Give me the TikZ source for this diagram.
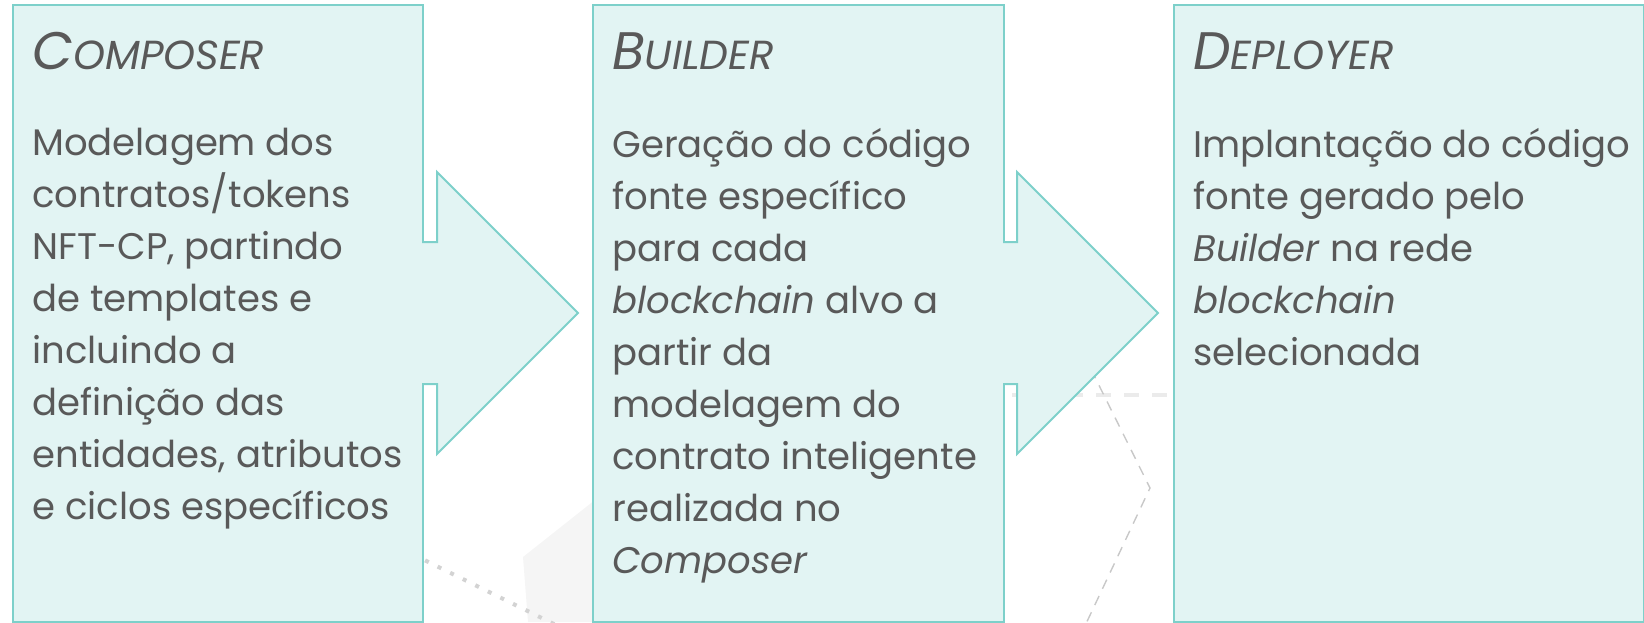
\documentclass[tikz,border=0pt]{standalone}
\usepackage{fontspec}
\setmainfont{Poppins}
\usepackage{tikz}

\definecolor{stagefill}{HTML}{E2F4F3}
\definecolor{stageline}{HTML}{7DD0CA}
\definecolor{stageink}{HTML}{595959}
\definecolor{decodash}{HTML}{C8C8C8}
\definecolor{decolight}{HTML}{EBEBEB}
\definecolor{decoshade}{HTML}{F5F5F5}

\newcommand{\stagecaps}[2]{{\fontsize{26.4}{26}\selectfont #1}{\fontsize{20.3}{20}\selectfont #2}}

\begin{document}
\begin{tikzpicture}[
		x=0.5pt, y=-0.5pt,
		stagebox/.style={rectangle, draw=stageline, fill=stagefill, line width=1pt, anchor=north west, inner sep=0pt},
		stagetitle/.style={anchor=base west, inner sep=0pt, text=stageink, font=\itshape},
		stagetext/.style={anchor=north west, inner sep=0pt, align=left, text=stageink, font=\fontsize{18.5}{26}\selectfont},
		stagearrow/.style={fill=stagefill},
		stageedge/.style={draw=stageline, line width=1pt, line join=miter}
	]
  \useasboundingbox (0,0) rectangle (1644,622);
  % background decoration
  \fill [decoshade] (523,557) -- (600,496) -- (600,622) -- (528,622) -- cycle;
  \draw [decodash!80, line width=2pt, dash pattern=on 2pt off 5pt] (400,548) -- (560,627);
  \draw [decolight, line width=2pt, dash pattern=on 7.5pt off 6.5pt] (900,395) -- (1173,395);
  \draw [decodash, line width=0.7pt, dash pattern=on 5pt off 4pt] (1075,337) -- (1150,488) -- (1083,630);
  % stages
  \node (composer) [stagebox, minimum width=205pt, minimum height=308.5pt] at (12,4) {};
  \node (builder) [stagebox, minimum width=205.5pt, minimum height=308.5pt] at (592,4) {};
  \node (deployer) [stagebox, minimum width=235pt, minimum height=308.5pt] at (1173,4) {};
  % arrows
  \fill [stagearrow] (420,242) -- (437,242) -- (437,172) -- (578,313) -- (437,454) -- (437,384) -- (420,384) -- cycle;
  \draw [stageedge] (422,242) -- (437,242) -- (437,172) -- (578,313) -- (437,454) -- (437,384) -- (422,384);
  \fill [stagearrow] (1001,242) -- (1017,242) -- (1017,172) -- (1158,313) -- (1017,454) -- (1017,384) -- (1001,384) -- cycle;
  \draw [stageedge] (1003,242) -- (1017,242) -- (1017,172) -- (1158,313) -- (1017,454) -- (1017,384) -- (1003,384);
  % titles
  \node (composer_title) [stagetitle] at (32,69) {\stagecaps{C}{OMPOSER}};
  \node (builder_title) [stagetitle] at (612,69) {\stagecaps{B}{UILDER}};
  \node (deployer_title) [stagetitle] at (1193,69) {\stagecaps{D}{EPLOYER}};
  % descriptions
  \node (composer_text) [stagetext] at (32,128) {Modelagem dos\\contratos/tokens\\NFT-CP, partindo\\de templates e\\incluindo a\\definição das\\entidades, atributos\\e ciclos específicos};
  \node (builder_text) [stagetext] at (612,128) {Geração do código\\fonte específico\\para cada\\\textit{blockchain} alvo a\\partir da\\modelagem do\\contrato inteligente\\realizada no\\\textit{Composer}};
  \node (deployer_text) [stagetext] at (1193,128) {Implantação do código\\fonte gerado pelo\\\textit{Builder} na rede\\\textit{blockchain}\\selecionada};
\end{tikzpicture}
\end{document}
